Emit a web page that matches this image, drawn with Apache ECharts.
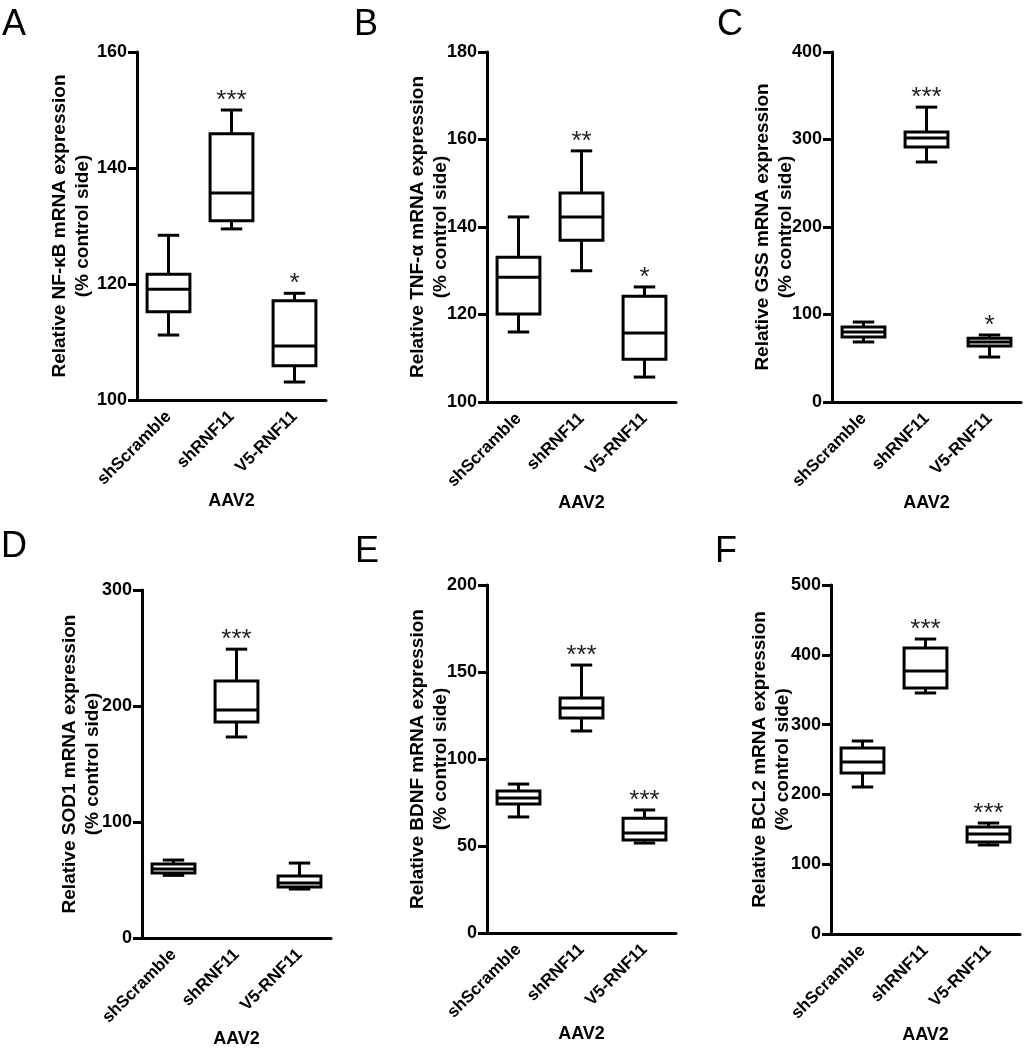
<!DOCTYPE html>
<html>
<head>
<meta charset="utf-8">
<script src="https://cdn.jsdelivr.net/npm/echarts@6/dist/echarts.min.js"></script>
<style>
html,body{margin:0;padding:0;background:#fff;}
#chart{width:1025px;height:1050px;}
</style>
</head>
<body>
<div id="chart"></div>
<script>
// ---- data ----
const groups = ['shScramble', 'shRNF11', 'V5-RNF11'];
const xAxisTitle = 'AAV2';
const panelLetters = ['A', 'B', 'C', 'D', 'E', 'F'];
const yTitles = [
  'Relative NF-κB mRNA expression\n(% control side)',
  'Relative TNF-α mRNA expression\n(% control side)',
  'Relative GSS mRNA expression\n(% control side)',
  'Relative SOD1 mRNA expression\n(% control side)',
  'Relative BDNF mRNA expression\n(% control side)',
  'Relative BCL2 mRNA expression\n(% control side)'
];
// y-axis ranges [min, max, interval]
const yRanges = [[100, 160, 20], [100, 180, 20], [0, 400, 100], [0, 300, 100], [0, 200, 50], [0, 500, 100]];
// box values per group: [min, Q1, median, Q3, max]
const boxNFkB = [[111.2, 115.2, 119.1, 121.7, 128.4], [129.5, 130.9, 135.7, 145.9, 150.0], [103.1, 105.9, 109.3, 117.1, 118.4]];
const boxTNFa = [[116.0, 120.1, 128.5, 133.1, 142.3], [130.0, 137.0, 142.3, 147.8, 157.4], [105.7, 109.8, 115.8, 124.2, 126.3]];
const boxGSS  = [[68.6, 74.3, 80.0, 85.7, 91.4], [274.3, 291.4, 301.7, 308.6, 337.0], [51.4, 64.0, 68.6, 73.0, 76.6]];
const boxSOD1 = [[54.0, 56.0, 59.5, 63.8, 67.2], [173.3, 186.2, 196.5, 221.6, 249.0], [42.2, 44.0, 47.4, 53.4, 64.6]];
const boxBDNF = [[66.7, 74.1, 77.6, 81.6, 85.6], [116.1, 123.6, 129.3, 135.0, 154.0], [51.7, 53.4, 57.5, 66.0, 70.7]];
const boxBCL2 = [[210.6, 230.7, 246.4, 266.5, 276.5], [345.3, 352.4, 376.8, 409.7, 422.6], [127.5, 131.8, 143.3, 153.3, 159.0]];
// significance marks per group
const sigNFkB = ['', '***', '*'];
const sigTNFa = ['', '**', '*'];
const sigGSS  = ['', '***', '*'];
const sigSOD1 = ['', '***', ''];
const sigBDNF = ['', '***', '***'];
const sigBCL2 = ['', '***', '***'];

const boxes = [boxNFkB, boxTNFa, boxGSS, boxSOD1, boxBDNF, boxBCL2];
const sigs = [sigNFkB, sigTNFa, sigGSS, sigSOD1, sigBDNF, sigBCL2];

// ---- layout (styles) ----
const FONT = '"Liberation Sans", Arial, Helvetica, sans-serif';
const grids = [
  {left: 137, top: 52, width: 189, height: 348},
  {left: 487, top: 52, width: 189, height: 350},
  {left: 832, top: 52, width: 189, height: 350},
  {left: 142, top: 590, width: 189, height: 348},
  {left: 487, top: 585, width: 189, height: 348},
  {left: 831, top: 585, width: 189, height: 349}
];
const nameGaps = [43, 35, 35, 38, 35, 37];
const letterPos = [[2, 7], [354, 7], [717, 7], [1, 529], [355, 534], [715, 534]];

function makeRender(sig) {
  return function (params, api) {
    const x = api.value(0);
    const pMin = api.coord([x, api.value(1)]);
    const pQ1 = api.coord([x, api.value(2)]);
    const pMed = api.coord([x, api.value(3)]);
    const pQ3 = api.coord([x, api.value(4)]);
    const pMax = api.coord([x, api.value(5)]);
    const band = api.size([1, 0])[0];
    const bw = band * 0.68, hw = bw / 2, cw = bw / 4;
    const cx = pMed[0];
    const ls = {stroke: '#000', lineWidth: 3, fill: null};
    const children = [
      {type: 'line', shape: {x1: cx, y1: pQ3[1], x2: cx, y2: pMax[1]}, style: ls},
      {type: 'line', shape: {x1: cx - cw, y1: pMax[1], x2: cx + cw, y2: pMax[1]}, style: ls},
      {type: 'line', shape: {x1: cx, y1: pQ1[1], x2: cx, y2: pMin[1]}, style: ls},
      {type: 'line', shape: {x1: cx - cw, y1: pMin[1], x2: cx + cw, y2: pMin[1]}, style: ls},
      {type: 'rect', shape: {x: cx - hw, y: pQ3[1], width: bw, height: pQ1[1] - pQ3[1]},
        style: {stroke: '#000', lineWidth: 3, fill: '#fff'}},
      {type: 'line', shape: {x1: cx - hw, y1: pMed[1], x2: cx + hw, y2: pMed[1]}, style: ls}
    ];
    const s = sig[params.dataIndex];
    if (s) {
      children.push({type: 'text', x: cx, y: pMax[1] + 4,
        style: {text: s, fill: '#222', font: 'normal 26px ' + FONT, align: 'center', verticalAlign: 'bottom'}});
    }
    return {type: 'group', children: children};
  };
}

const option = {
  backgroundColor: '#fff',
  animation: false,
  title: panelLetters.map((t, i) => ({
    text: t, left: letterPos[i][0], top: letterPos[i][1], padding: 0,
    textStyle: {fontFamily: FONT, fontSize: 36, fontWeight: 'normal', color: '#000'}
  })),
  grid: grids.map(g => Object.assign({containLabel: false}, g)),
  xAxis: grids.map((g, i) => ({
    type: 'category', gridIndex: i, data: groups,
    name: xAxisTitle, nameLocation: 'middle', nameGap: 92, nameMoveOverlap: false,
    nameTextStyle: {fontFamily: FONT, fontSize: 18, fontWeight: 'bold', color: '#000'},
    axisLine: {lineStyle: {color: '#000', width: 3}},
    axisTick: {alignWithLabel: true, length: 9, lineStyle: {color: '#000', width: 3}},
    axisLabel: {rotate: 45, interval: 0, margin: 14, fontFamily: FONT, fontSize: 17, fontWeight: 'bold', color: '#000'},
    splitLine: {show: false}
  })),
  yAxis: grids.map((g, i) => ({
    type: 'value', gridIndex: i,
    min: yRanges[i][0], max: yRanges[i][1], interval: yRanges[i][2],
    name: yTitles[i], nameLocation: 'middle', nameGap: nameGaps[i], nameRotate: 90, nameMoveOverlap: false,
    nameTextStyle: {fontFamily: FONT, fontSize: 19, fontWeight: 'bold', color: '#000', lineHeight: 23, align: 'center'},
    axisLine: {show: true, lineStyle: {color: '#000', width: 3}},
    axisTick: {show: true, length: 9, lineStyle: {color: '#000', width: 3}},
    axisLabel: {margin: 10, fontFamily: FONT, fontSize: 18, fontWeight: 'bold', color: '#000'},
    splitLine: {show: false}
  })),
  series: boxes.map((b, i) => ({
    type: 'custom', xAxisIndex: i, yAxisIndex: i,
    encode: {x: 0, y: [1, 2, 3, 4, 5]},
    renderItem: makeRender(sigs[i]),
    data: b.map((v, j) => [j].concat(v))
  }))
};

const chart = echarts.init(document.getElementById('chart'), null, {renderer: 'canvas'});
chart.setOption(option);
</script>
</body>
</html>
